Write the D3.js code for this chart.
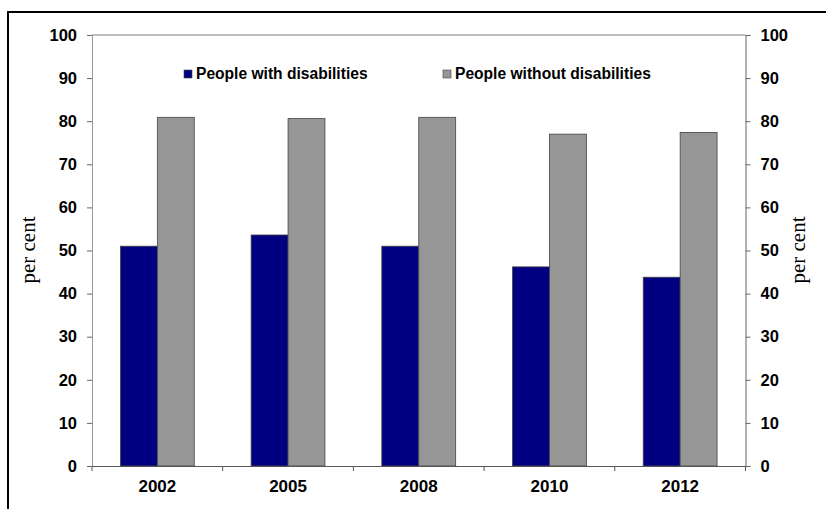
<!DOCTYPE html>
<html><head><meta charset="utf-8">
<script src="https://cdn.jsdelivr.net/npm/d3@7"></script>
<style>body{margin:0;background:#fff;} svg{display:block;}</style>
</head><body>
<svg id="chart" width="826" height="509"></svg>
<script>
const years = ["2002", "2005", "2008", "2010", "2012"];
const withDis = [51.0, 53.6, 51.0, 46.2, 43.8];
const withoutDis = [80.9, 80.6, 80.9, 77.0, 77.4];
const seriesNames = ["People with disabilities", "People without disabilities"];
const seriesColors = ["#000080", "#969696"];
const yTicks = [0, 10, 20, 30, 40, 50, 60, 70, 80, 90, 100];

const svg = d3.select("#chart");
const L = 92, R = 745.5, T = 35, B = 466;

// outer frame
svg.append("rect").attr("x", 8).attr("y", 12).attr("width", 830).attr("height", 520)
  .attr("fill", "none").attr("stroke", "#000").attr("stroke-width", 2);

const x = d3.scaleBand().domain(years).range([L, R]).paddingInner(0).paddingOuter(0);
const xs = d3.scaleBand().domain([0, 1]).range([0, x.bandwidth()]).paddingInner(0).paddingOuter(0.77);
const y = d3.scaleLinear().domain([0, 100]).range([B, T]);

// plot top border
svg.append("line").attr("x1", L).attr("x2", R).attr("y1", T).attr("y2", T).attr("stroke", "#808080").attr("stroke-width", 1);

const font = "'Liberation Sans', Arial, sans-serif";

const yl = svg.append("g").attr("transform", `translate(${L},0)`)
  .call(d3.axisLeft(y).tickValues(yTicks).tickSize(5).tickPadding(10));
const yr = svg.append("g").attr("transform", `translate(${R},0)`)
  .call(d3.axisRight(y).tickValues(yTicks).tickSize(5).tickPadding(10));
[yl, yr].forEach(g => {
  g.select(".domain").attr("stroke", "#666");
  g.selectAll(".tick line").attr("stroke", "#666");
  g.selectAll(".tick text").attr("font-family", font).attr("font-weight", "bold")
    .attr("font-size", 16.5).attr("fill", "#000");
});
yl.select(".domain").attr("stroke", "#999");

// bars
const groups = svg.append("g").selectAll("g").data(years).join("g")
  .attr("transform", d => `translate(${x(d)},0)`);
const vals = [withDis, withoutDis];
groups.selectAll("rect").data((d, i) => [0, 1].map(s => ({s, v: vals[s][i]}))).join("rect")
  .attr("x", d => xs(d.s)).attr("width", xs.bandwidth())
  .attr("y", d => y(d.v)).attr("height", d => B - y(d.v))
  .attr("fill", d => seriesColors[d.s]).attr("stroke", "#444").attr("stroke-width", 0.8);

// x axis
const xa = svg.append("g").attr("transform", `translate(0,${B})`)
  .call(d3.axisBottom(x).tickSize(0).tickPadding(14));
xa.select(".domain").attr("stroke", "#555");
xa.selectAll(".tick text").attr("font-family", font).attr("font-weight", "bold")
  .attr("font-size", 17).attr("fill", "#000");
const bounds = years.map(d => x(d)).concat([R]);
svg.append("g").selectAll("line").data(bounds).join("line")
  .attr("x1", d => d).attr("x2", d => d).attr("y1", B).attr("y2", B + 5)
  .attr("stroke", "#555");

// axis titles
[35, 805].forEach(cx => {
  svg.append("text").attr("transform", `translate(${cx},250) rotate(-90)`)
    .attr("text-anchor", "middle").attr("font-family", "'Liberation Serif', 'Times New Roman', serif")
    .attr("font-size", 21).attr("fill", "#000").text("per cent");
});

// legend
const legX = [184, 443];
seriesNames.forEach((n, i) => {
  svg.append("rect").attr("x", legX[i]).attr("y", 70).attr("width", 8).attr("height", 8)
    .attr("fill", seriesColors[i]).attr("stroke", "#444").attr("stroke-width", 0.6);
  svg.append("text").attr("x", legX[i] + 12).attr("y", 79)
    .attr("font-family", font).attr("font-weight", "bold").attr("font-size", 15.6)
    .attr("fill", "#000").text(n);
});
</script>
</body></html>
